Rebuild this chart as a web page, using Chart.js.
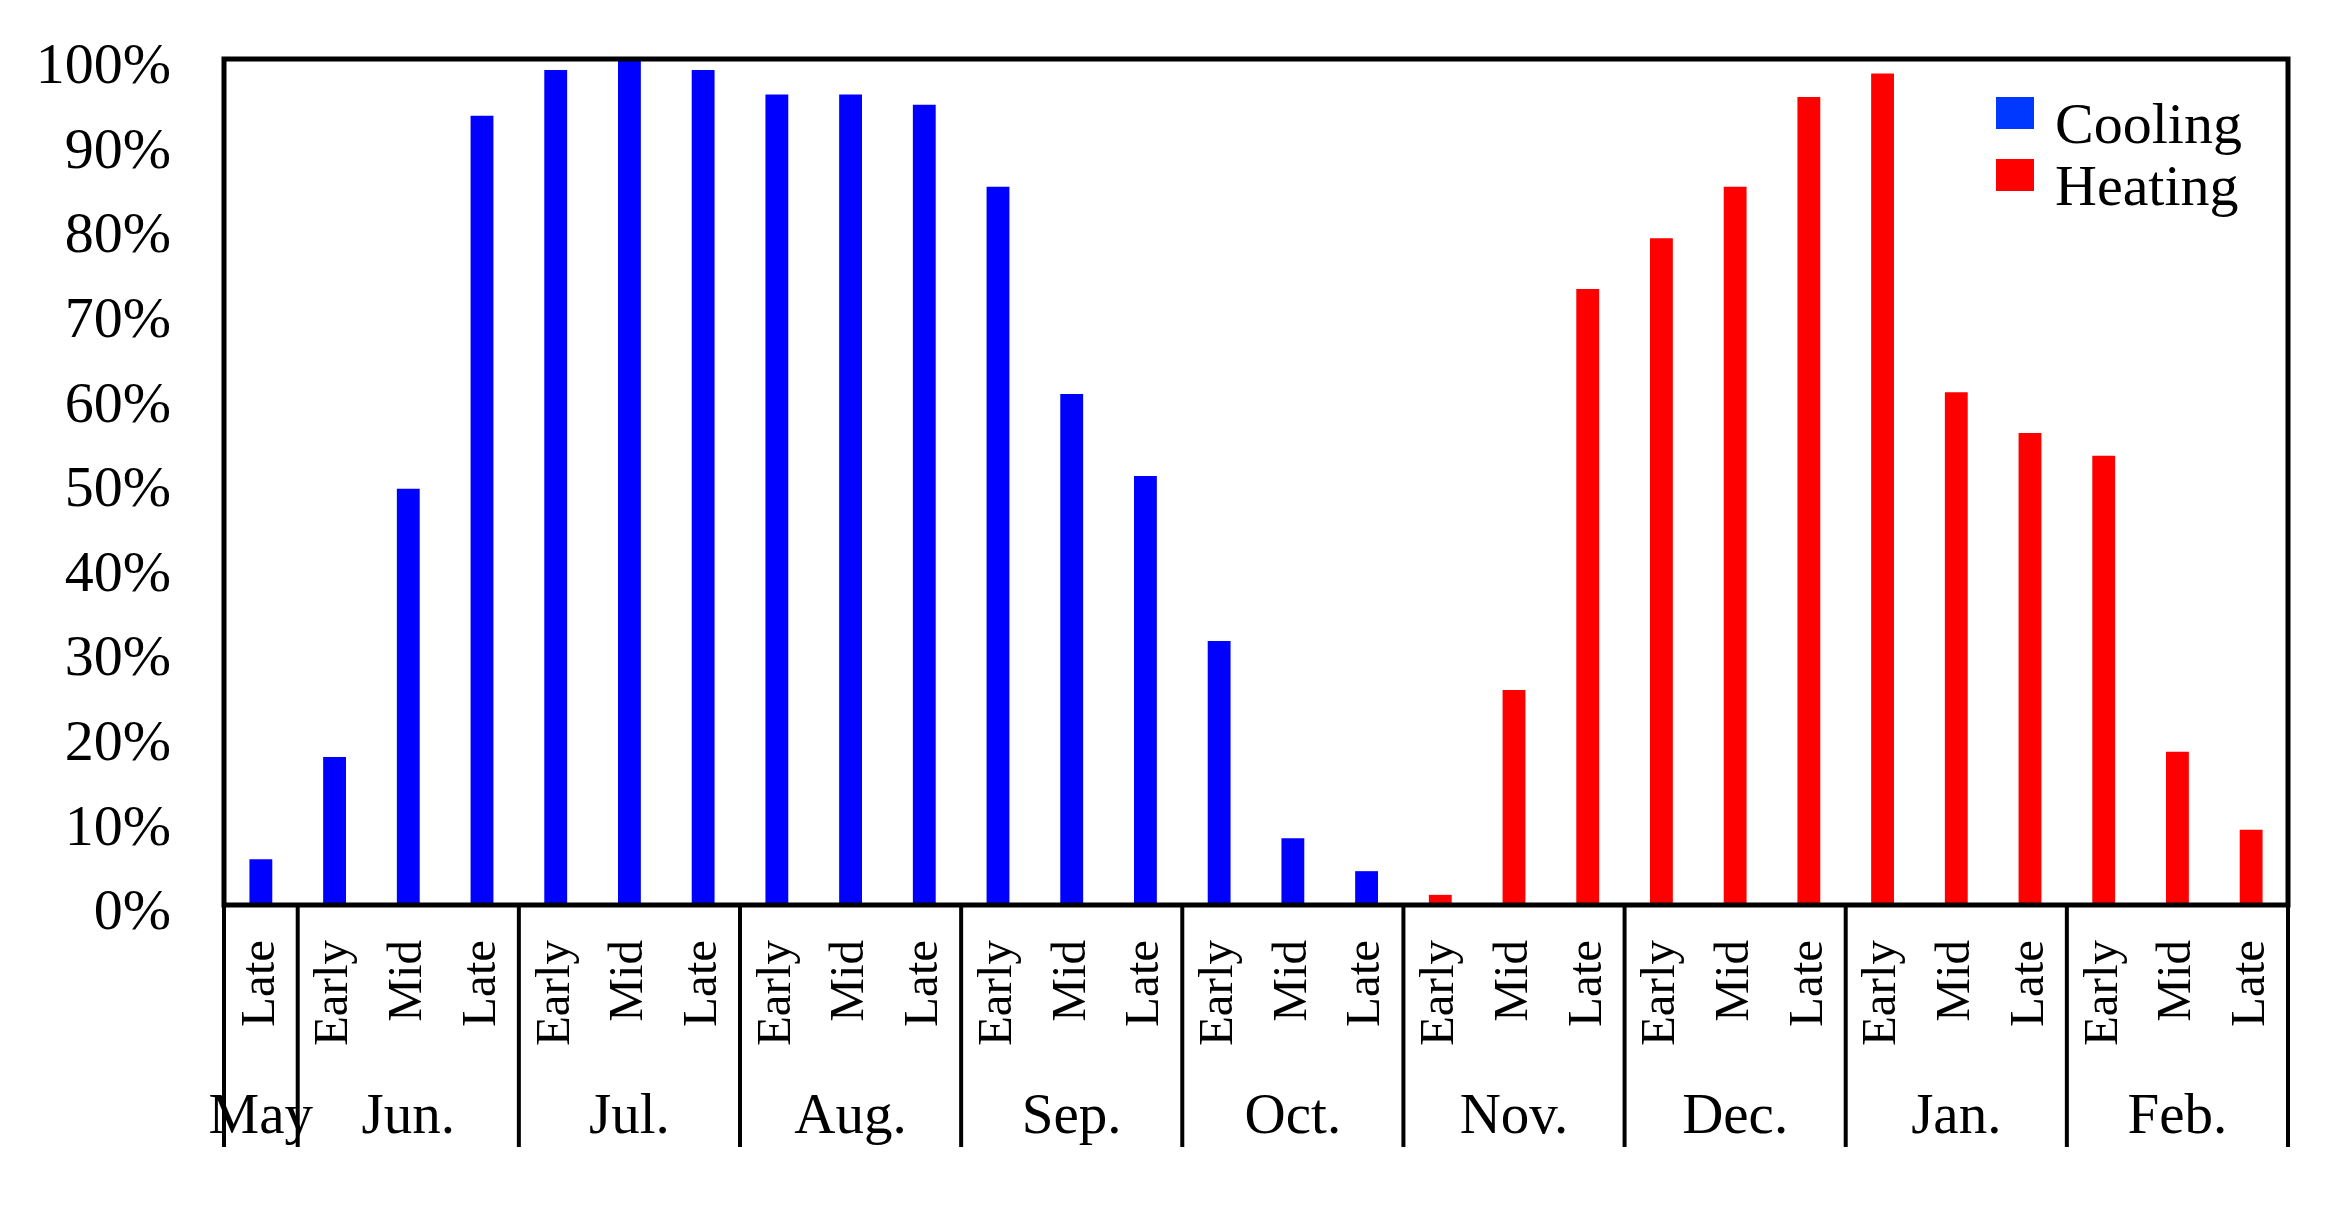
<!DOCTYPE html>
<html>
<head>
<meta charset="utf-8">
<script src="https://cdn.jsdelivr.net/npm/chart.js@4"></script>
<style>
  html, body { margin: 0; padding: 0; background: #fff; }
  canvas { display: block; }
</style>
</head>
<body>
<canvas id="myChart" width="2331" height="1214"></canvas>
<script>
// one entry per ten-day period, May (late) to Feb
const periods = [
  "Late",
  "Early", "Mid", "Late",
  "Early", "Mid", "Late",
  "Early", "Mid", "Late",
  "Early", "Mid", "Late",
  "Early", "Mid", "Late",
  "Early", "Mid", "Late",
  "Early", "Mid", "Late",
  "Early", "Mid", "Late",
  "Early", "Mid", "Late",
];
const months = [
  "May",
  "Jun.", "Jun.", "Jun.",
  "Jul.", "Jul.", "Jul.",
  "Aug.", "Aug.", "Aug.",
  "Sep.", "Sep.", "Sep.",
  "Oct.", "Oct.", "Oct.",
  "Nov.", "Nov.", "Nov.",
  "Dec.", "Dec.", "Dec.",
  "Jan.", "Jan.", "Jan.",
  "Feb.", "Feb.", "Feb.",
];

// cooling: late May .. late Oct, heating: early Nov .. late Feb (%)
const cooling = [5.4, 17.5, 49.2, 93.3, 98.7, 100, 98.7, 95.8, 95.8, 94.6, 84.9, 60.4, 50.7, 31.2, 7.9, 4.0];
const heating = [1.2, 25.4, 72.8, 78.8, 84.9, 95.5, 98.3, 60.6, 55.8, 53.1, 18.1, 8.9];

const yTicks = [0, 10, 20, 30, 40, 50, 60, 70, 80, 90, 100];

const serif = '"Liberation Serif", "Times New Roman", serif';

const coolingData = cooling.concat(heating.map(() => null));
const heatingData = cooling.map(() => null).concat(heating);

// frame around the plot, month dividers and month names
const monthFrame = {
  id: "monthFrame",
  afterDraw: (chart) => {
    const { ctx, chartArea: a } = chart;
    const x = chart.scales.x;
    const half = (x.getPixelForValue(1) - x.getPixelForValue(0)) / 2;
    ctx.save();
    ctx.strokeStyle = "#000";
    ctx.lineWidth = 5;
    ctx.strokeRect(a.left, a.top, a.right - a.left, a.bottom - a.top);

    ctx.lineWidth = 4;
    ctx.fillStyle = "#000";
    ctx.font = "57px " + serif;
    ctx.textAlign = "center";
    ctx.textBaseline = "alphabetic";
    const lineBottom = a.bottom + 242;
    let start = 0;
    for (let i = 1; i <= months.length; i++) {
      if (i === months.length || months[i] !== months[start]) {
        const x0 = x.getPixelForValue(start) - half;
        const x1 = x.getPixelForValue(i - 1) + half;
        ctx.beginPath();
        ctx.moveTo(x0, a.bottom);
        ctx.lineTo(x0, lineBottom);
        if (i === months.length) {
          ctx.moveTo(x1, a.bottom);
          ctx.lineTo(x1, lineBottom);
        }
        ctx.stroke();
        ctx.fillText(months[start], (x0 + x1) / 2, a.bottom + 228);
        start = i;
      }
    }
    ctx.restore();
  },
};

// legend drawn inside the plot, top right
const insideLegend = {
  id: "insideLegend",
  afterDraw: (chart) => {
    const { ctx, chartArea: a } = chart;
    const swatch = ["#0038ff", "#ff0000"];
    ctx.save();
    ctx.font = "58px " + serif;
    ctx.textAlign = "left";
    ctx.textBaseline = "alphabetic";
    chart.data.datasets.forEach((ds, i) => {
      const top = a.top + 38 + i * 62;
      ctx.fillStyle = swatch[i];
      ctx.fillRect(a.right - 292, top, 38, 32);
      ctx.fillStyle = "#000";
      ctx.fillText(ds.label, a.right - 233, top + 46);
    });
    ctx.restore();
  },
};

const ctx = document.getElementById("myChart");

new Chart(ctx, {
  type: "bar",
  data: {
    labels: periods,
    datasets: [
      {
        label: "Cooling",
        data: coolingData,
        backgroundColor: "#0000ff",
      },
      {
        label: "Heating",
        data: heatingData,
        backgroundColor: "#ff0000",
      },
    ],
  },
  options: {
    responsive: false,
    animation: false,
    layout: {
      padding: { top: 59, right: 43, bottom: 0, left: 0 },
    },
    datasets: {
      bar: {
        grouped: false,
        barPercentage: 0.31,
        categoryPercentage: 1,
      },
    },
    plugins: {
      legend: { display: false },
      tooltip: { enabled: false },
    },
    scales: {
      x: {
        // tick marks are hidden; tickLength only spaces the labels
        grid: { display: false, drawTicks: true, tickLength: 35 },
        border: { display: false },
        ticks: {
          autoSkip: false,
          minRotation: 90,
          maxRotation: 90,
          padding: 0,
          color: "#000",
          font: { family: serif, size: 49 },
        },
        afterFit: (scale) => {
          scale.height = 309;
        },
      },
      y: {
        min: 0,
        max: 100,
        grid: { display: false, drawTicks: true, tickLength: 53 },
        border: { display: false },
        afterBuildTicks: (scale) => {
          scale.ticks = yTicks.map((v) => ({ value: v }));
        },
        ticks: {
          padding: 0,
          labelOffset: 9,
          color: "#000",
          font: { family: serif, size: 58 },
          callback: (v) => v + "%",
        },
        afterFit: (scale) => {
          scale.width = 224;
        },
      },
    },
  },
  plugins: [monthFrame, insideLegend],
});
</script>
</body>
</html>
